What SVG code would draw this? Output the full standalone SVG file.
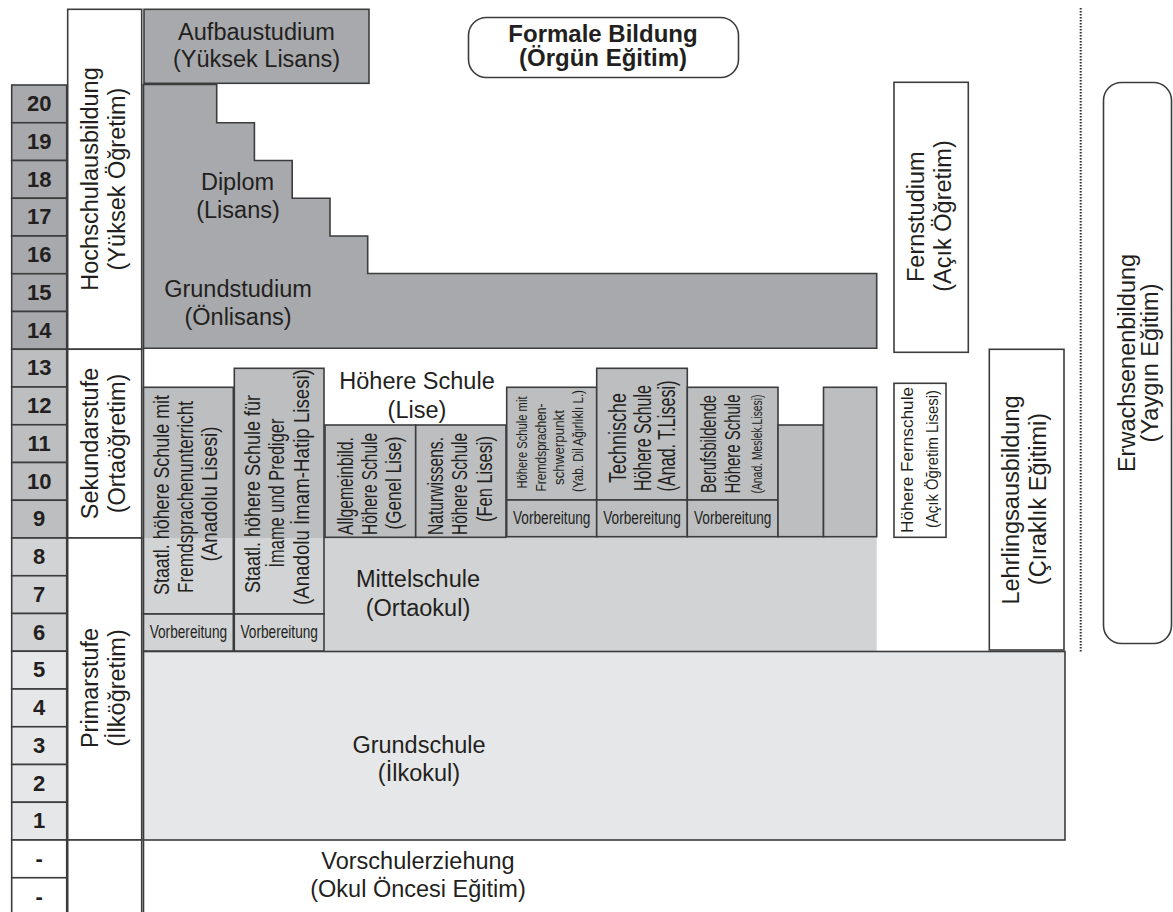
<svg xmlns="http://www.w3.org/2000/svg" width="1173" height="912" viewBox="0 0 1173 912">
<style>
.s{stroke:#3c3c3e;stroke-width:1.6}
.d{fill:#a7a9ac}
.m{fill:#bcbec0}
.l{fill:#d1d3d4}
.x{fill:#e6e7e8}
.w{fill:#ffffff}
.n{fill:none}
text{font-family:"Liberation Sans",Arial,Helvetica,sans-serif;fill:#231f20}
.t{font-size:23.5px;text-anchor:middle}
.b{font-size:24px;font-weight:bold;text-anchor:middle}
.num{font-size:22px;font-weight:bold;text-anchor:middle}
.c{text-anchor:middle}
.c22{font-size:22px}
.c23{font-size:23px}
.c19{font-size:19px}
.c15{font-size:15.5px}
.c16{font-size:16px}
.c17{font-size:17px}
</style>
<rect width="1173" height="912" fill="#ffffff"/>

<g id="years">
<rect class="s d" x="11.7" y="85" width="55" height="37.75"/>
<rect class="s d" x="11.7" y="122.75" width="55" height="37.75"/>
<rect class="s d" x="11.7" y="160.5" width="55" height="37.75"/>
<rect class="s d" x="11.7" y="198.25" width="55" height="37.75"/>
<rect class="s d" x="11.7" y="236" width="55" height="37.75"/>
<rect class="s d" x="11.7" y="273.75" width="55" height="37.75"/>
<rect class="s d" x="11.7" y="311.5" width="55" height="37.75"/>
<rect class="s m" x="11.7" y="349.25" width="55" height="37.75"/>
<rect class="s m" x="11.7" y="387" width="55" height="37.75"/>
<rect class="s m" x="11.7" y="424.75" width="55" height="37.75"/>
<rect class="s m" x="11.7" y="462.5" width="55" height="37.75"/>
<rect class="s m" x="11.7" y="500.25" width="55" height="37.75"/>
<rect class="s l" x="11.7" y="538" width="55" height="37.75"/>
<rect class="s l" x="11.7" y="575.75" width="55" height="37.75"/>
<rect class="s l" x="11.7" y="613.5" width="55" height="37.75"/>
<rect class="s x" x="11.7" y="651.25" width="55" height="37.75"/>
<rect class="s x" x="11.7" y="689" width="55" height="37.75"/>
<rect class="s x" x="11.7" y="726.75" width="55" height="37.75"/>
<rect class="s x" x="11.7" y="764.5" width="55" height="37.75"/>
<rect class="s x" x="11.7" y="802.25" width="55" height="37.75"/>
<rect class="s w" x="11.7" y="840" width="55" height="37.75"/>
<rect class="s w" x="11.7" y="877.75" width="55" height="37.75"/>
<text class="num" x="39.2" y="111">20</text>
<text class="num" x="39.2" y="148.75">19</text>
<text class="num" x="39.2" y="186.5">18</text>
<text class="num" x="39.2" y="224.25">17</text>
<text class="num" x="39.2" y="262">16</text>
<text class="num" x="39.2" y="299.75">15</text>
<text class="num" x="39.2" y="337.5">14</text>
<text class="num" x="39.2" y="375.25">13</text>
<text class="num" x="39.2" y="413">12</text>
<text class="num" x="39.2" y="450.75">11</text>
<text class="num" x="39.2" y="488.5">10</text>
<text class="num" x="39.2" y="526.25">9</text>
<text class="num" x="39.2" y="564">8</text>
<text class="num" x="39.2" y="601.75">7</text>
<text class="num" x="39.2" y="639.5">6</text>
<text class="num" x="39.2" y="677.25">5</text>
<text class="num" x="39.2" y="715">4</text>
<text class="num" x="39.2" y="752.75">3</text>
<text class="num" x="39.2" y="790.5">2</text>
<text class="num" x="39.2" y="828.25">1</text>
<text class="num" x="39.2" y="866">-</text>
<text class="num" x="39.2" y="903.75">-</text>
</g>

<g id="hochschulausbildung">
<rect class="s w" x="67.7" y="9.3" width="74" height="339.95"/>
<text class="t" transform="translate(97.5,179) rotate(-90)">Hochschulausbildung</text>
<text class="t" transform="translate(124.5,179) rotate(-90)">(Yüksek Öğretim)</text>
</g>
<g id="sekundarstufe">
<rect class="s w" x="67.7" y="349.25" width="74" height="188.75"/>
<text class="t" transform="translate(97.5,443.5) rotate(-90)">Sekundarstufe</text>
<text class="t" transform="translate(124.5,443.5) rotate(-90)">(Ortaöğretim)</text>
</g>
<g id="primarstufe">
<rect class="s w" x="67.7" y="538" width="74" height="302"/>
<text class="t" transform="translate(97.5,688) rotate(-90)">Primarstufe</text>
<text class="t" transform="translate(124.5,688) rotate(-90)">(İlköğretim)</text>
</g>
<g id="vorschul-stufe">
<rect class="s w" x="67.7" y="840" width="74" height="76"/>
</g>

<g id="vorschulerziehung">
<line class="s" x1="143.5" y1="84" x2="143.5" y2="912"/>
<text class="t" x="418" y="869">Vorschulerziehung</text>
<text class="t" x="418" y="897">(Okul Öncesi Eğitim)</text>
</g>

<g id="aufbaustudium">
<rect class="s d" x="144" y="9.3" width="225" height="74"/>
<text class="t" x="256.5" y="40">Aufbaustudium</text>
<text class="t" x="256.5" y="67">(Yüksek Lisans)</text>
</g>

<g id="grundstudium-diplom">
<polygon class="s d" points="143.5,84.5 216.7,84.5 216.7,122.75 254.4,122.75 254.4,160.5 292.2,160.5 292.2,198.25 330,198.25 330,236 367.7,236 367.7,273.5 876.7,273.5 876.7,348.3 143.5,348.3"/>
<text class="t" x="237.5" y="190">Diplom</text>
<text class="t" x="238" y="218">(Lisans)</text>
<text class="t" x="238" y="297">Grundstudium</text>
<text class="t" x="238" y="325">(Önlisans)</text>
</g>

<g id="formale-bildung">
<rect class="s w" x="468.5" y="17.5" width="270" height="60" rx="18"/>
<text class="b" x="603" y="41.5">Formale Bildung</text>
<text class="b" x="603" y="66">(Örgün Eğitim)</text>
</g>

<g id="mittelschule">
<rect class="l" x="324" y="537" width="552.7" height="114.5"/>
<text class="t" x="418" y="587">Mittelschule</text>
<text class="t" x="418" y="616">(Ortaokul)</text>
</g>

<g id="grundschule">
<rect class="s x" x="143.5" y="651.5" width="921.5" height="188.5"/>
<text class="t" x="419" y="753">Grundschule</text>
<text class="t" x="419" y="781">(İlkokul)</text>
</g>

<g id="hoehere-schule-label">
<text class="t" x="417" y="388.5">Höhere Schule</text>
<text class="t" x="417" y="418">(Lise)</text>
</g>

<g id="anadolu-lisesi">
<rect class="m" x="143.5" y="387.3" width="89.8" height="150.7"/>
<rect class="l" x="143.5" y="538" width="89.8" height="76"/>
<rect class="s n" x="143.5" y="387.3" width="89.8" height="226.7"/>
<rect class="s l" x="143.5" y="614" width="89.8" height="37"/>
<text class="c c22" transform="translate(168.5,495) rotate(-90)" textLength="200" lengthAdjust="spacingAndGlyphs">Staatl. höhere Schule mit</text>
<text class="c c22" transform="translate(192.5,497) rotate(-90)" textLength="192" lengthAdjust="spacingAndGlyphs">Fremdsprachenunterricht</text>
<text class="c c22" transform="translate(217,494) rotate(-90)" textLength="135" lengthAdjust="spacingAndGlyphs">(Anadolu Lisesi)</text>
<text class="c c19" transform="translate(188.4,638) scale(0.72,1)">Vorbereitung</text>
</g>

<g id="imam-hatip-lisesi">
<rect class="m" x="234.3" y="368.3" width="89.7" height="169.7"/>
<rect class="l" x="234.3" y="538" width="89.7" height="76"/>
<rect class="s n" x="234.3" y="368.3" width="89.7" height="245.7"/>
<rect class="s l" x="234.3" y="614" width="89.7" height="37"/>
<text class="c c22" transform="translate(260,494) rotate(-90)" textLength="198" lengthAdjust="spacingAndGlyphs">Staatl. höhere Schule für</text>
<text class="c c22" transform="translate(284,493) rotate(-90)" textLength="149" lengthAdjust="spacingAndGlyphs">İmame und Prediger</text>
<text class="c c22" transform="translate(308.5,487) rotate(-90)" textLength="236" lengthAdjust="spacingAndGlyphs">(Anadolu İmam-Hatip Lisesi)</text>
<text class="c c19" transform="translate(279.2,638) scale(0.72,1)">Vorbereitung</text>
</g>

<g id="genel-lise">
<rect class="s m" x="325" y="425" width="90.7" height="112.3"/>
<text class="c c22" transform="translate(352.5,486) rotate(-90)" textLength="98" lengthAdjust="spacingAndGlyphs">Allgemeinbild.</text>
<text class="c c22" transform="translate(376.5,484) rotate(-90)" textLength="102" lengthAdjust="spacingAndGlyphs">Höhere Schule</text>
<text class="c c22" transform="translate(400.5,483) rotate(-90)" textLength="93" lengthAdjust="spacingAndGlyphs">(Genel Lise)</text>
</g>

<g id="fen-lisesi">
<rect class="s m" x="415.7" y="425" width="90.3" height="112.3"/>
<text class="c c22" transform="translate(442.5,486) rotate(-90)" textLength="98" lengthAdjust="spacingAndGlyphs">Naturwissens.</text>
<text class="c c22" transform="translate(467,484) rotate(-90)" textLength="102" lengthAdjust="spacingAndGlyphs">Höhere Schule</text>
<text class="c c22" transform="translate(491.5,479) rotate(-90)" textLength="86" lengthAdjust="spacingAndGlyphs">(Fen Lisesi)</text>
</g>

<g id="yabanci-dil-lisesi">
<rect class="s m" x="506.7" y="387.3" width="90" height="112.7"/>
<rect class="s m" x="506.7" y="500" width="90" height="36.7"/>
<text class="c c15" transform="translate(527,442.5) rotate(-90)" textLength="92" lengthAdjust="spacingAndGlyphs">Höhere Schule mit</text>
<text class="c c15" transform="translate(545.5,447.5) rotate(-90)" textLength="88" lengthAdjust="spacingAndGlyphs">Fremdsprachen-</text>
<text class="c c15" transform="translate(564,447.5) rotate(-90)" textLength="75" lengthAdjust="spacingAndGlyphs">schwerpunkt</text>
<text class="c c15" transform="translate(583,441) rotate(-90)" textLength="102" lengthAdjust="spacingAndGlyphs">(Yab. Dil Ağırlıklı L.)</text>
<text class="c c19" transform="translate(551.7,524) scale(0.72,1)">Vorbereitung</text>
</g>

<g id="teknik-lise">
<rect class="s m" x="596.7" y="368.3" width="90.6" height="131.7"/>
<rect class="s m" x="596.7" y="500" width="90.6" height="36.7"/>
<text class="c c23" transform="translate(626,438) rotate(-90)" textLength="90" lengthAdjust="spacingAndGlyphs">Technische</text>
<text class="c c23" transform="translate(650.5,438) rotate(-90)" textLength="106" lengthAdjust="spacingAndGlyphs">Höhere Schule</text>
<text class="c c23" transform="translate(675,436) rotate(-90)" textLength="111" lengthAdjust="spacingAndGlyphs">(Anad. T.Lisesi)</text>
<text class="c c19" transform="translate(642,524) scale(0.72,1)">Vorbereitung</text>
</g>

<g id="meslek-lisesi">
<rect class="s m" x="687.3" y="387.3" width="90.7" height="112.7"/>
<rect class="s m" x="687.3" y="500" width="90.7" height="36.7"/>
<text class="c c22" transform="translate(715.5,444) rotate(-90)" textLength="98" lengthAdjust="spacingAndGlyphs">Berufsbildende</text>
<text class="c c22" transform="translate(740,444) rotate(-90)" textLength="99" lengthAdjust="spacingAndGlyphs">Höhere Schule</text>
<text class="c c15" transform="translate(762,444) rotate(-90)" textLength="99" lengthAdjust="spacingAndGlyphs">(Anad. Meslek.Lisesi)</text>
<text class="c c19" transform="translate(732.7,524) scale(0.72,1)">Vorbereitung</text>
</g>

<g id="other-school-1">
<rect class="s m" x="778" y="425" width="45.5" height="111.7"/>
</g>
<g id="other-school-2">
<rect class="s m" x="823.5" y="387.3" width="53.2" height="149.4"/>
</g>

<g id="fernstudium">
<rect class="s w" x="894" y="82.3" width="74.3" height="270"/>
<text class="t" transform="translate(923.5,216.7) rotate(-90)">Fernstudium</text>
<text class="t" transform="translate(951,216) rotate(-90)">(Açık Öğretim)</text>
</g>

<g id="hoehere-fernschule">
<rect class="s w" x="894" y="383.3" width="52" height="154"/>
<text class="c c17" transform="translate(913,460) rotate(-90)" textLength="146" lengthAdjust="spacingAndGlyphs">Höhere Fernschule</text>
<text class="c c16" transform="translate(937.5,459) rotate(-90)" textLength="138" lengthAdjust="spacingAndGlyphs">(Açık Öğretim Lisesi)</text>
</g>

<g id="lehrlingsausbildung">
<rect class="s w" x="989.3" y="349.3" width="74.7" height="300.7"/>
<text class="t" transform="translate(1018.5,500) rotate(-90)">Lehrlingsausbildung</text>
<text class="t" transform="translate(1046,499) rotate(-90)">(Çıraklık Eğitimi)</text>
</g>

<g id="separator">
<line x1="1080.7" y1="8" x2="1080.7" y2="652" stroke="#2e2e30" stroke-width="2" stroke-dasharray="1.5 1.5"/>
</g>

<g id="erwachsenenbildung">
<rect class="s w" x="1103.5" y="82.5" width="68" height="561" rx="18"/>
<text class="t" transform="translate(1135,363) rotate(-90)">Erwachsenenbildung</text>
<text class="t" transform="translate(1157.5,363) rotate(-90)">(Yaygın Eğitim)</text>
</g>

<g id="connectors"></g>
</svg>
